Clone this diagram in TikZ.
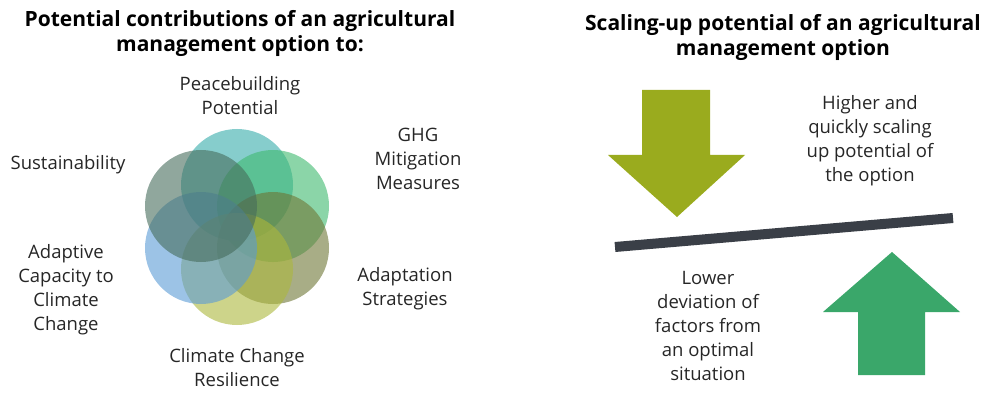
\documentclass[tikz,border=0pt]{standalone}
\usepackage{fontspec}
\setmainfont{Open Sans}
\usepackage{xcolor}
\usetikzlibrary{positioning}

\definecolor{petalteal}{HTML}{35ACAA}
\definecolor{petalgreen}{HTML}{3EB96E}
\definecolor{petalolive}{HTML}{6E7635}
\definecolor{petalyellow}{HTML}{ACB73C}
\definecolor{petalblue}{HTML}{5A9BD5}
\definecolor{petalgrey}{HTML}{466C5C}
\definecolor{downarrow}{HTML}{9AAB1E}
\definecolor{uparrow}{HTML}{3AA76A}
\definecolor{balance}{HTML}{3A3F47}
\definecolor{txt}{HTML}{262626}

\begin{document}
\begin{tikzpicture}[x=1pt,y=-1pt,
	petal/.style={circle, minimum size=112pt, inner sep=0pt, fill opacity=0.6},
	lbl/.style={align=center, text=txt, font=\fontsize{18.5}{24}\selectfont},
	ttl/.style={align=center, font=\fontsize{21}{25}\selectfont\bfseries}]
	%\draw[help lines] (0,0) grid (988,393);
	\useasboundingbox (0,0) rectangle (988,393);
	
	% titles
	\node[ttl] (lefttitle) at (240,33) {Potential contributions of an agricultural\\management option to:};
	\node[ttl] (righttitle) at (783,37) {Scaling-up potential of an agricultural\\management option};
	
	% petals
	\node[petal, fill=petalteal]   (peace)  at (237,185) {};
	\node[petal, fill=petalgreen]  (ghg)    at (273,206) {};
	\node[petal, fill=petalolive]  (adapt)  at (273,248) {};
	\node[petal, fill=petalyellow] (resil)  at (237,269) {};
	\node[petal, fill=petalblue]   (capac)  at (201,248) {};
	\node[petal, fill=petalgrey]   (sust)   at (201,206) {};
	
	% petal labels
	\node[lbl] (peacetext) at (240,96)  {Peacebuilding\\Potential};
	\node[lbl] (ghgtext)   at (418,159) {GHG\\Mitigation\\Measures};
	\node[lbl] (susttext)  at (68,165)  {Sustainability};
	\node[lbl] (capactext) at (66,290)  {Adaptive\\Capacity to\\Climate\\Change};
	\node[lbl] (adapttext) at (405,289) {Adaptation\\Strategies};
	\node[lbl] (resiltext) at (237,368) {Climate Change\\Resilience};
	
	% balance
	\coordinate (barleft)  at (615,247);
	\coordinate (barright) at (953,218);
	\draw[line width=10pt, balance] (barleft) -- (barright);
	
	\fill[downarrow] (642,90) -- (710,90) -- (710,155) -- (745,155) -- (677,217)
		-- (608,155) -- (642,155) -- cycle;
	\fill[uparrow] (858,375) -- (925,375) -- (925,312) -- (960,312) -- (892,252)
		-- (823,312) -- (858,312) -- cycle;
	
	\node[lbl] (highertext) at (870,141) {Higher and\\quickly scaling\\up potential of\\the option};
	\node[lbl] (lowertext)  at (708,326) {Lower\\deviation of\\factors from\\an optimal\\situation};
	
\end{tikzpicture}
\end{document}
